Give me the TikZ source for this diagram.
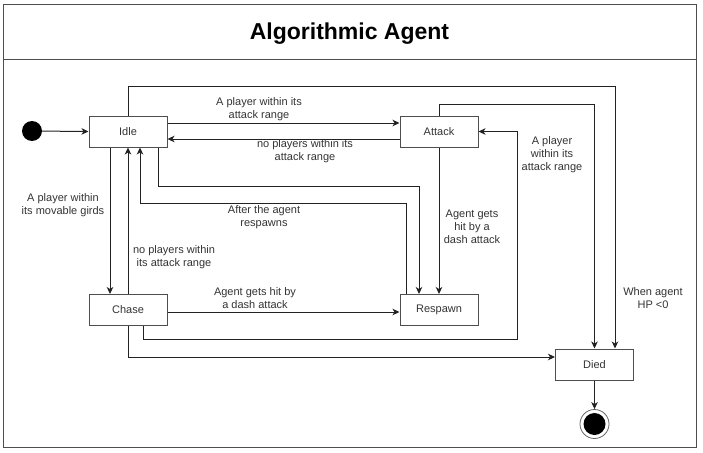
\documentclass[tikz,border=0pt]{standalone}
\usepackage{fontspec}
\setmainfont{Liberation Sans}
\usetikzlibrary{arrows.meta,calc}
\definecolor{txt}{HTML}{333333}
\definecolor{ln}{HTML}{222222}
\tikzset{
  state/.style={draw=ln!80, line width=1pt, rectangle, minimum width=78pt, minimum height=31pt, inner sep=0pt, font=\fontsize{11}{13}\selectfont, text=txt},
  arr/.style={draw=ln, line width=1pt, -{Stealth[length=7pt,width=6.5pt,inset=2pt]}},
  lbl/.style={font=\fontsize{11}{13}\selectfont, text=txt, align=center, inner sep=0pt},
}
\begin{document}
\begin{tikzpicture}[x=1pt,y=-1pt]
\useasboundingbox (0,0) rectangle (703,452);
% frame
\draw[ln!80, line width=1pt] (3,5) rectangle (696,447);
\draw[ln!80, line width=1pt] (3,59) -- (696,59);
\node[anchor=base, font=\fontsize{23}{27}\selectfont\bfseries, text=black] (title) at (349.5,40) {Algorithmic Agent};
% states
\node[circle, fill=black, minimum size=20pt, inner sep=0pt] (init) at (32,131) {};
\node[state] (idle) at (128,131.5) {Idle};
\node[state] (attack) at (439,131.5) {Attack};
\node[state] (chase) at (128,310) {Chase};
\node[state] (respawn) at (439,310) {Respawn};
\node[state] (died) at (594.5,364.5) {Died};
\node[circle, draw=ln!70, line width=0.8pt, minimum size=29pt, inner sep=0pt] (final) at (594.5,424) {};
\node[circle, fill=black, minimum size=22pt, inner sep=0pt] (finalin) at (594.5,424) {};
% connectors
\draw[arr] (init) -- (idle.west);
\draw[arr] (idle.east |- 0,123) -- (attack.west |- 0,123);
\draw[arr] (attack.west |- 0,139) -- (idle.east |- 0,139);
\draw[arr] (idle.north) |- (615,86) -- (died.north -| 615,0);
\draw[arr] (idle.south -| 158,0) |- (419,186) -- (respawn.north -| 419,0);
\draw[arr] (respawn.north -| 406,0) |- (140,203) -- (idle.south -| 140,0);
\draw[arr] (attack.south) -- (respawn.north);
\draw[arr] (attack.north) |- (died.north |- 0,104) -- (died.north);
\draw[arr] (chase.south -| 143,0) |- (517,339) |- (attack.east);
\draw[arr] (idle.south -| 110,0) -- (chase.north -| 110,0);
\draw[arr] (chase.north) -- (idle.south);
\draw[arr] (chase.east |- 0,312) -- (respawn.west |- 0,312);
\draw[arr] (chase.south) |- (died.west |- 0,357);
\draw[arr] (died.south) -- (final.north);
% labels
\node[lbl] (l1) at (259,109.5) {A player within its\\attack range};
\node[lbl] (l2) at (305,151.5) {no players within its\\attack range};
\node[lbl] (l3) at (264,217.5) {After the agent\\respawns};
\node[lbl] (l4) at (472,226.5) {Agent gets\\hit by a\\dash attack};
\node[lbl] (l5) at (552,155) {A player\\within its\\attack range};
\node[lbl] (l6) at (63,205) {A player within\\its movable girds};
\node[lbl] (l7) at (174,257.5) {no players within\\its attack range};
\node[lbl] (l8) at (255,298.5) {Agent gets hit by\\a dash attack};
\node[lbl] (l9) at (653,298) {When agent\\HP <0};
\end{tikzpicture}
\end{document}
